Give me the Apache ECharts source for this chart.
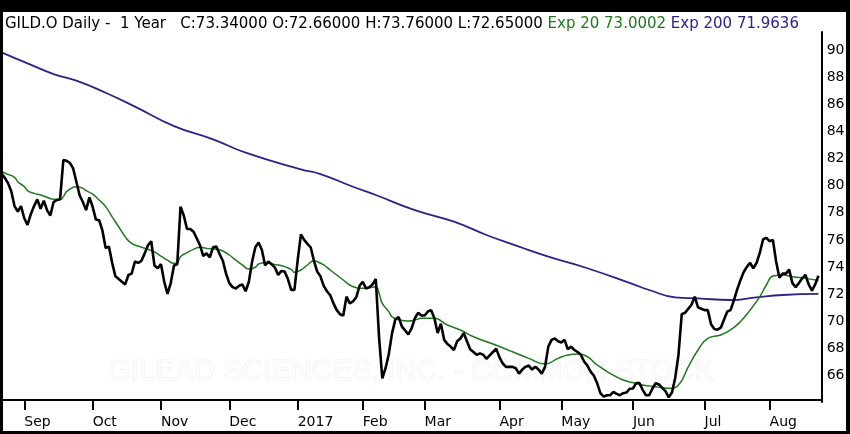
<!DOCTYPE html>
<html>
<head>
<meta charset="utf-8">
<script src="https://cdn.jsdelivr.net/npm/echarts@6/dist/echarts.min.js"></script>
<style>
    html, body { margin: 0; padding: 0; background: #fff; }
    #chart { position: absolute; left: 0; top: 0; width: 850px; height: 434px; }
    #frame { position: absolute; left: 0; top: 0; width: 850px; height: 434px; box-sizing: border-box;
             border-style: solid; border-color: #000; border-width: 12px 4px 3px 3px; pointer-events: none; }
</style>
</head>
<body>
<div id="chart"></div>
<div id="frame"></div>
<script>
// daily closes, first bar = 23 Aug 2016, last = 22 Aug 2017
var closes = [
    // Aug
    80.9, 80.6, 80.2, 79.6, 78.5, 78.1, 78.5,
    // Sep
    77.6, 77.1, 77.9, 78.5, 79.0, 78.3, 78.9, 78.2, 77.8, 78.8, 78.95, 79.0, 81.9, 81.85, 81.7, 81.3, 80.3, 79.3, 78.8, 78.2, 79.15,
    // Oct
    78.45, 77.5, 77.45, 76.7, 75.4, 75.5, 74.3, 73.3, 73.1, 72.9, 72.7, 73.4, 73.5, 74.4, 74.3, 74.45, 75.0, 75.6, 75.9, 74.1, 73.9,
    // Nov
    74.2, 72.9, 72.0, 72.8, 74.1, 74.2, 78.45, 77.8, 76.8, 76.8, 76.6, 76.1, 75.6, 74.8, 75.0, 74.7, 75.45, 75.5, 74.95, 74.45, 73.5,
    // Dec
    72.8, 72.5, 72.4, 72.6, 72.7, 72.2, 72.9, 74.4, 75.45, 75.8, 75.25, 74.1, 74.4, 74.2, 73.95, 73.4, 73.7, 73.65, 73.1, 72.3, 72.3,
    // Jan
    74.5, 76.4, 76.0, 75.7, 75.45, 74.45, 73.65, 73.3, 72.6, 72.2, 71.9, 71.3, 70.8, 70.5, 70.4, 71.8, 71.3, 71.45, 71.75, 72.6,
    // Feb
    72.9, 72.4, 72.5, 72.7, 73.1, 68.8, 65.75, 66.5, 67.55, 69.1, 70.1, 70.3, 69.6, 69.3, 69.0, 69.45, 70.2, 70.6, 70.4,
    // Mar
    70.4, 70.7, 70.8, 70.2, 69.1, 69.8, 68.6, 68.3, 68.1, 67.85, 68.5, 68.7, 69.1, 68.5, 67.9, 67.7, 67.5, 67.6, 67.5, 67.2, 67.45, 67.7, 67.95,
    // Apr
    67.3, 66.85, 66.6, 66.6, 66.6, 66.5, 66.1, 66.4, 66.6, 66.7, 66.4, 66.6, 66.4, 66.1, 66.6, 68.1, 68.6, 68.7, 68.5,
    // May
    68.4, 68.6, 67.9, 68.1, 67.85, 67.7, 67.5, 67.0, 66.7, 66.25, 65.95, 65.4, 64.65, 64.4, 64.5, 64.5, 64.75, 64.6, 64.5, 64.65, 64.7, 64.98,
    // Jun
    65.0, 65.4, 65.4, 64.9, 64.5, 64.5, 65.0, 65.4, 65.3, 65.05, 64.8, 64.35, 64.7, 65.8, 67.5, 70.5, 70.6, 70.9, 71.2, 71.8, 71.0, 70.9,
    // Jul
    70.8, 70.8, 69.75, 69.4, 69.35, 69.5, 70.1, 70.7, 70.8, 71.5, 72.3, 73.0, 73.6, 74.0, 74.3, 73.9, 74.3, 75.05, 76.05, 76.15,
    // Aug
    75.9, 76.0, 74.4, 73.2, 73.5, 73.5, 73.8, 72.8, 72.5, 72.8, 73.15, 73.4, 72.7, 72.25, 72.7, 73.34
];

// [bar index, value]
var ema20 = [
    [0, 81.04], [2, 80.85], [4, 80.63], [5, 80.3], [7, 79.94], [8, 79.64], [10, 79.44], [12, 79.32], [14, 79.15],
    [16, 79.0], [18, 78.98], [19, 79.2], [20, 79.57], [22, 79.89], [23, 79.94], [25, 79.81], [26, 79.64], [28, 79.39],
    [30, 78.95], [32, 78.46], [34, 77.7], [36, 76.97], [38, 76.23], [40, 75.74], [43, 75.45], [45, 75.3], [47, 75.1],
    [49, 74.8], [51, 74.5], [53, 74.26], [54, 74.3], [55, 74.75], [57, 75.05], [59, 75.3], [61, 75.45], [63, 75.37],
    [66, 75.3], [68, 75.18], [70, 74.88], [72, 74.5], [74, 74.14], [76, 73.84], [78, 73.97], [79, 74.21], [81, 74.31],
    [83, 74.21], [85, 74.14], [87, 74.02], [89, 73.82], [90, 73.6], [92, 73.77], [94, 74.14], [96, 74.46], [97, 74.39],
    [99, 74.14], [101, 73.77], [103, 73.4], [105, 73.03], [107, 72.66], [109, 72.46], [111, 72.41], [113, 72.46],
    [115, 72.53], [116, 72.04], [117, 71.3], [119, 70.69], [120, 70.3], [122, 70.1], [125, 70.0], [127, 70.07],
    [129, 70.19], [131, 70.19], [133, 70.19], [137, 69.7], [141, 69.33], [145, 68.83], [151, 68.29], [157, 67.72],
    [162, 67.23], [167, 66.81], [171, 67.23], [174, 67.48], [177, 67.55], [180, 67.35], [183, 66.74], [187, 66.12],
    [191, 65.63], [195, 65.38], [197, 65.26], [201, 65.13], [205, 65.01], [208, 65.26], [211, 66.6], [214, 67.85],
    [217, 68.71], [221, 68.96], [224, 69.33], [227, 69.94], [230, 70.8], [233, 71.8], [235, 72.66], [237, 73.32],
    [240, 73.4], [243, 73.27], [247, 73.15], [251, 73.0]
];
var ema200 = [
    [0, 89.88], [8, 89.06], [16, 88.27], [23, 87.78], [32, 86.89], [41, 85.86], [53, 84.42], [65, 83.44], [75, 82.45],
    [92, 81.22], [98, 80.87], [108, 79.93], [115, 79.32], [127, 78.2], [139, 77.35], [149, 76.36], [159, 75.5],
    [168, 74.76], [180, 73.9], [194, 72.72], [199, 72.29], [207, 71.75], [214, 71.67], [224, 71.55], [232, 71.75],
    [240, 71.92], [251, 72.0]
];

var tickLabels = ['Sep', 'Oct', 'Nov', 'Dec', '2017', 'Feb', 'Mar', 'Apr', 'May', 'Jun', 'Jul', 'Aug'];
var tickIndex = [7, 28, 49, 70, 91, 111, 130, 153, 172, 194, 216, 236];

var quote = { c: '73.34000', o: '72.66000', h: '73.76000', l: '72.65000', e20: '73.0002', e200: '71.9636' };

var days = [];
for (var i = 0; i <= closes.length; i++) days.push(i);

function isMonthStart(i) {
    return tickIndex.indexOf(i) >= 0;
}

var chart = echarts.init(document.getElementById('chart'));
var font = 'DejaVu Sans';

var option = {
    animation: false,
    backgroundColor: '#fff',
    title: {
        left: 5,
        top: 16,
        padding: 0,
        text: '{k|GILD.O Daily -  1 Year   C:' + quote.c + ' O:' + quote.o + ' H:' + quote.h + ' L:' + quote.l + ' }' +
              '{g|Exp 20 ' + quote.e20 + ' }{p|Exp 200 ' + quote.e200 + '}',
        textStyle: {
            fontWeight: 'normal',
            rich: {
                k: { color: '#000', fontFamily: font, fontSize: 15, fontWeight: 'normal', lineHeight: 16 },
                g: { color: '#1d7a1d', fontFamily: font, fontSize: 15, fontWeight: 'normal', lineHeight: 16 },
                p: { color: '#2f2188', fontFamily: font, fontSize: 15, fontWeight: 'normal', lineHeight: 16 }
            }
        }
    },
    graphic: [{
        type: 'text',
        left: 108,
        top: 357,
        silent: true,
        z: -10,
        style: {
            text: 'GILEAD SCIENCES, INC. - COMMON STOCK',
            font: '29px "Liberation Sans"',
            fill: '#fcfcfc',
            stroke: '#efefef',
            lineWidth: 1
        }
    }],
    grid: { left: 1.5, right: 28.3, top: 32, bottom: 32, containLabel: false, outerBoundsMode: 'none' },
    xAxis: {
        type: 'category',
        data: days,
        boundaryGap: false,
        offset: -2,
        axisLine: { lineStyle: { color: '#000', width: 2 } },
        axisTick: { interval: isMonthStart, length: 10, lineStyle: { color: '#000', width: 2 } },
        axisLabel: {
            interval: isMonthStart,
            formatter: function (v, i) { return tickLabels[tickIndex.indexOf(i)]; },
            align: 'left',
            margin: 15,
            color: '#000',
            fontFamily: font,
            fontSize: 14
        },
        splitLine: { show: false }
    },
    yAxis: {
        type: 'value',
        position: 'right',
        min: 64,
        max: 91.384,
        interval: 2,
        axisLine: { show: true, lineStyle: { color: '#000', width: 2 } },
        axisTick: { show: false },
        splitLine: { show: false },
        axisLabel: {
            margin: 5,
            color: '#000',
            fontFamily: font,
            fontSize: 14,
            formatter: function (v) { return (v >= 66 && v <= 90 && v % 2 === 0) ? String(v) : ''; }
        }
    },
    series: [
        {
            name: 'Exp 200', type: 'line', data: ema200, smooth: true, showSymbol: false,
            lineStyle: { color: '#2f2188', width: 1.8 }, z: 3
        },
        {
            name: 'Exp 20', type: 'line', data: ema20, smooth: true, showSymbol: false,
            lineStyle: { color: '#1d7a1d', width: 1.5 }, z: 3
        },
        {
            name: 'GILD.O', type: 'line', data: closes, showSymbol: false,
            lineStyle: { color: '#000', width: 2.6 }, z: 4
        }
    ]
};

chart.setOption(option);
</script>
</body>
</html>
